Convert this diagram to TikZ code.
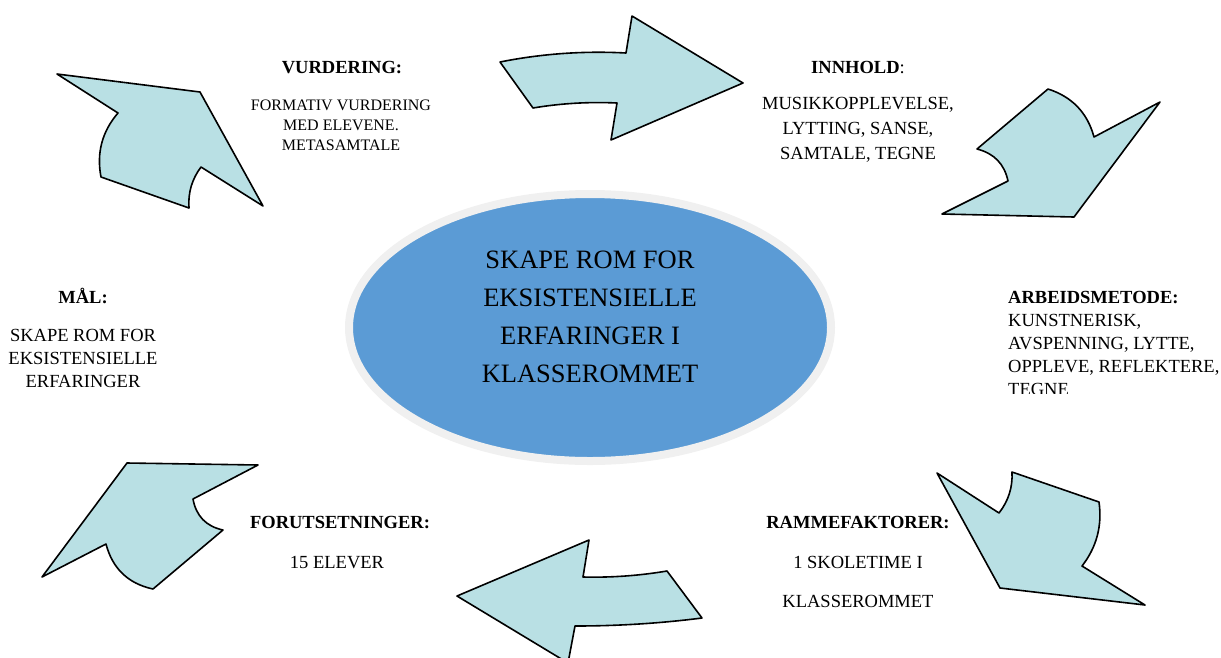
\documentclass[tikz,border=0pt]{standalone}
\usepackage{fontspec}
\setmainfont{Liberation Serif}
\usetikzlibrary{shapes.geometric}
\definecolor{arrowfill}{RGB}{185,224,228}
\definecolor{coreblue}{RGB}{91,155,213}
\definecolor{coreedge}{RGB}{240,240,240}
\begin{document}
\begin{tikzpicture}[x=1pt,y=-1pt,
  arrowshape/.style={fill=arrowfill, draw=black, line width=1.6pt, line join=round},
  hdr/.style={inner sep=0pt, font=\bfseries\fontsize{18.5}{22}\selectfont},
  body/.style={inner sep=0pt, align=center, font=\fontsize{18.5}{23}\selectfont}]
\useasboundingbox (0,0) rectangle (1221,657);

% central ellipse
\node[ellipse, fill=coreblue, draw=coreedge, line width=8pt, inner sep=0pt,
      minimum width=482pt, minimum height=267pt] (core) at (590,327.5) {};
\node[inner sep=0pt, align=center, font=\fontsize{26.5}{38}\selectfont] (coretext) at (590,317)
  {SKAPE ROM FOR\\EKSISTENSIELLE\\ERFARINGER I\\KLASSEROMMET};

% arrows
\draw[arrowshape] (57,74) -- (200,92) -- (263,206) -- (201,167)
  .. controls (191.9,179.2) and (187.9,192.8) .. (189,208) -- (101,177)
  .. controls (96.4,153) and (102,131.6) .. (118,113) -- cycle;
\draw[arrowshape] (500,62) .. controls (541.6,53.7) and (583.6,50.7) .. (626,53) -- (632,16) -- (743,83)
  -- (611,140) -- (617,103) .. controls (589,101.7) and (561,103.3) .. (533,108) -- cycle;
\draw[arrowshape] (1048,89) .. controls (1072,96.7) and (1087.4,112.7) .. (1094,137) -- (1160,102)
  -- (1074,217) -- (942,214) -- (1008,181)
  .. controls (1004.4,163.9) and (994,153.3) .. (977,149) -- cycle;
\draw[arrowshape] (937,473) -- (999,513) .. controls (1008.4,500.9) and (1012.8,487.3) .. (1012,472)
  -- (1099,502) .. controls (1102.3,525.7) and (1096.7,547.1) .. (1082,566)
  -- (1145,605) -- (1000,588) -- cycle;
\draw[arrowshape] (457,596) -- (589,540) -- (583,577)
  .. controls (611,577.7) and (639,575.7) .. (667,571)
  -- (702,618) .. controls (659.7,623.4) and (617.3,626) .. (575,626) -- (568,663) -- cycle;
\draw[arrowshape] (127,463) -- (258,465) -- (193,499)
  .. controls (196.1,516) and (206.1,526.4) .. (223,530)
  -- (153,589) .. controls (128.1,583.6) and (112.5,568.6) .. (106,544) -- (42,577) -- cycle;

% labels
\node[hdr] (vurdH) at (342,68) {VURDERING:};
\node[body, font=\fontsize{16}{20}\selectfont] (vurdB) at (341,125)
  {FORMATIV VURDERING\\MED ELEVENE.\\METASAMTALE};

\node[hdr] (innH) at (858,68) {INNHOLD\mdseries:};
\node[body, font=\fontsize{18.5}{25}\selectfont] (innB) at (858,130)
  {MUSIKKOPPLEVELSE,\\LYTTING, SANSE,\\SAMTALE, TEGNE};

\node[hdr] (malH) at (83,296) {MÅL:};
\node[body] (malB) at (83,358) {SKAPE ROM FOR\\EKSISTENSIELLE\\ERFARINGER};

\begin{scope}
\clip (990,270) rectangle (1221,393);
\node[inner sep=0pt, align=left, anchor=north west, font=\fontsize{18.5}{23}\selectfont]
  (arbB) at (1008,291)
  {\textbf{ARBEIDSMETODE:}\\KUNSTNERISK,\\AVSPENNING, LYTTE,\\OPPLEVE, REFLEKTERE,\\TEGNE};
\end{scope}

\node[hdr] (rammH) at (858,522) {RAMMEFAKTORER:};
\node[body, font=\fontsize{18.5}{39}\selectfont] (rammB) at (858,582)
  {1 SKOLETIME I\\KLASSEROMMET};

\node[hdr] (forH) at (340,522) {FORUTSETNINGER:};
\node[body] (forB) at (337,563) {15 ELEVER};
\end{tikzpicture}
\end{document}
